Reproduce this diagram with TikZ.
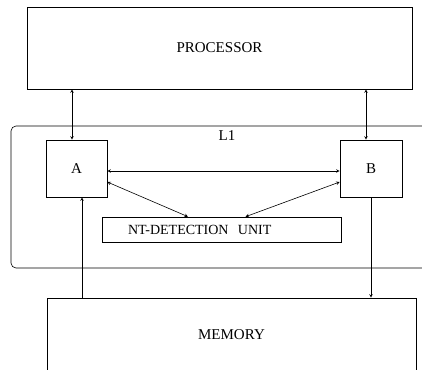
\documentclass[tikz,border=0pt]{standalone}
\usepackage{fontspec}
\setmainfont{Liberation Serif}
\begin{document}
\begin{tikzpicture}[>=stealth,x=1pt,y=-1pt,line width=0.6pt,
	box/.style={draw,rectangle,inner sep=0pt,font=\fontsize{15}{18}\selectfont}]
			\useasboundingbox (0,0) rectangle (422,369);
			\clip (0,0) rectangle (422,369);
			% outer blocks
			\node[box,minimum width=385,minimum height=82] (proc) at (219.5,48) {PROCESSOR};
			\node[box,minimum width=369,minimum height=74] (mem) at (231.5,335) {MEMORY};
			% the L1 frame
			\draw[rounded corners=5pt] (440,126) -- (11,126) -- (11,268) -- (440,268);
			\node[font=\fontsize{15}{18}\selectfont] (l1) at (227,136) {L1};
			\node[box,minimum width=61,minimum height=57] (a) at (76.5,168.5) {A};
			\node[box,minimum width=62,minimum height=57] (b) at (371,168.5) {B};
			\node[box,minimum height=25,text width=187,inner xsep=26pt,align=left,
				font=\fontsize{14}{16}\selectfont] (nt) at (221.5,229.5) {NT-DETECTION\ \ UNIT};
			% links
			\draw[<->] ([xshift=-4.5pt]a.north) -- ([xshift=-4.5pt]a.north |- proc.south);
			\draw[<->] ([xshift=-5pt]b.north) -- ([xshift=-5pt]b.north |- proc.south);
			\draw[<->] ([yshift=-2.5pt]a.east) -- ([yshift=-2.5pt]b.west);
			\draw[<->] ([yshift=-13.5pt]a.east) -- ([xshift=-33.5pt]nt.north);
			\draw[<->] ([yshift=-13.5pt]b.west) -- ([xshift=24pt]nt.north);
			\draw[->] ([xshift=5.5pt]a.south |- mem.north) -- ([xshift=5.5pt]a.south);
			\draw[->] (b.south) -- (b.south |- mem.north);
\end{tikzpicture}
\end{document}
